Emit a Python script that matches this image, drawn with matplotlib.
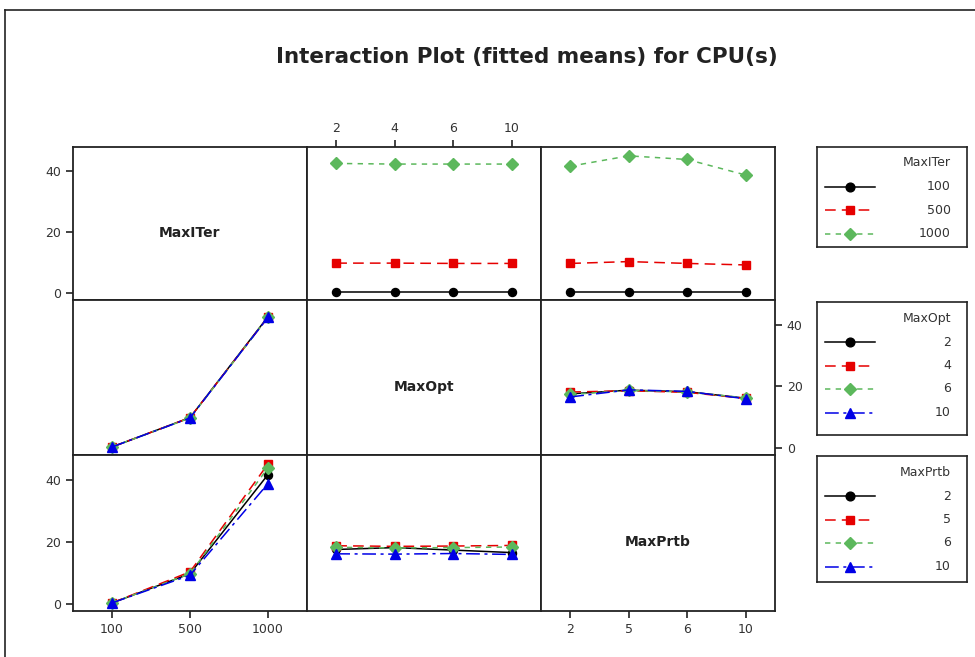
import numpy as np
import matplotlib
matplotlib.use("Agg")
import matplotlib.pyplot as plt
from matplotlib.lines import Line2D

# factor levels
iter_levels = ["100", "500", "1000"]
opt_levels = ["2", "4", "6", "10"]
prtb_levels = ["2", "5", "6", "10"]
factor_names = ["MaxITer", "MaxOpt", "MaxPrtb"]

# fitted means, rows = first factor level, cols = second factor level
iter_opt = np.array([
    [0.4, 0.4, 0.4, 0.4],
    [9.9, 9.9, 9.8, 9.8],
    [42.6, 42.4, 42.4, 42.4],
])
iter_prtb = np.array([
    [0.4, 0.4, 0.4, 0.4],
    [9.8, 10.4, 9.8, 9.3],
    [41.7, 45.1, 43.9, 38.8],
])
opt_prtb = np.array([
    [17.6, 18.8, 18.3, 16.2],
    [18.2, 18.6, 18.1, 16.1],
    [17.4, 18.7, 18.2, 16.3],
    [16.6, 18.9, 18.4, 16.0],
])
y_ticks = [0, 20, 40]

levels = [iter_levels, opt_levels, prtb_levels]
tables = {
    (0, 1): iter_opt, (0, 2): iter_prtb,
    (1, 0): iter_opt.T, (1, 2): opt_prtb,
    (2, 0): iter_prtb.T, (2, 1): opt_prtb.T,
}

styles = [
    dict(color="black", marker="o", ls="-", ms=5.8),
    dict(color="#e60000", marker="s", ls=(0, (7, 4)), ms=5.8),
    dict(color="#5cb85c", marker="D", ls=(0, (3.5, 3.5)), ms=5.8),
    dict(color="#0000e6", marker="^", ls=(0, (9, 3, 2, 3)), ms=6.8),
]

W, H = 975, 657
fig = plt.figure(figsize=(W / 100, H / 100), dpi=100)

def fbox(x0, y0, x1, y1):
    # pixel box (top-left origin) -> figure fraction rect
    return [x0 / W, 1 - y1 / H, (x1 - x0) / W, (y1 - y0) / H]

col_x = [73, 307, 541, 775]
row_y = [147, 300, 455, 611]
spine_c = "#222222"
tick_c = "#333333"

for r in range(3):
    for c in range(3):
        ax = fig.add_axes(fbox(col_x[c], row_y[r], col_x[c + 1], row_y[r + 1]))
        nx = len(levels[c])
        ax.set_xlim(-0.5, nx - 0.5)
        ax.set_ylim(-2.2, 48)
        for s in ax.spines.values():
            s.set_linewidth(1.3)
            s.set_color(spine_c)
        ax.tick_params(direction="out", length=5, width=1.2, color=spine_c,
                       labelsize=9, labelcolor=tick_c)
        ax.set_xticks(range(nx))
        ax.set_xticklabels(levels[c])
        ax.set_yticks(y_ticks)
        ax.tick_params(bottom=False, labelbottom=False, left=False, labelleft=False)
        if r == c:
            ax.text(0.5, 0.44, factor_names[r], transform=ax.transAxes,
                    ha="center", va="center", fontsize=10, fontweight="bold",
                    color="#222222")
        else:
            data = tables[(r, c)]
            for k, row in enumerate(data):
                st = styles[k]
                ax.plot(range(nx), row, color=st["color"], ls=st["ls"], lw=1.1,
                        marker=st["marker"], ms=st["ms"], mec=st["color"],
                        mfc=st["color"])
        if c == 0 and r in (0, 2):
            ax.tick_params(left=True, labelleft=True)
        if c == 2 and r == 1:
            ax.yaxis.tick_right()
            ax.tick_params(right=True, labelright=True)
        if r == 2 and c in (0, 2):
            ax.tick_params(bottom=True, labelbottom=True)
        if r == 0 and c == 1:
            ax.xaxis.tick_top()
            ax.tick_params(top=True, labeltop=True)

# legends, one per trace factor
legend_boxes = [(817, 147, 967, 247), (817, 302, 967, 435), (817, 456, 967, 582)]
for i, (x0, y0, x1, y1) in enumerate(legend_boxes):
    lax = fig.add_axes(fbox(x0, y0, x1, y1))
    lax.set_xlim(0, x1 - x0)
    lax.set_ylim(y1 - y0, 0)
    lax.set_xticks([])
    lax.set_yticks([])
    for s in lax.spines.values():
        s.set_linewidth(1.2)
        s.set_color(spine_c)
    lax.text(134, 16, factor_names[i], ha="right", va="center", fontsize=9,
             color=tick_c)
    for k, lev in enumerate(levels[i]):
        st = styles[k]
        y = 40 + 23.5 * k
        lax.plot([8, 58], [y, y], color=st["color"], ls=st["ls"], lw=1.1)
        lax.plot([33], [y], color=st["color"], marker=st["marker"], ms=st["ms"] + 0.5)
        lax.text(134, y, lev, ha="right", va="center", fontsize=9, color=tick_c)

fig.text(527 / W, 1 - 57 / H, "Interaction Plot (fitted means) for CPU(s)",
         ha="center", va="center", fontsize=15.5, fontweight="bold",
         color="#222222")

# outer frame
fig.add_artist(Line2D([5 / W, 5 / W], [0, 1 - 10 / H], color="#222222", lw=1.2))
fig.add_artist(Line2D([5 / W, 1], [1 - 10 / H, 1 - 10 / H], color="#222222", lw=1.2))

fig.savefig("out.png", dpi=100)
